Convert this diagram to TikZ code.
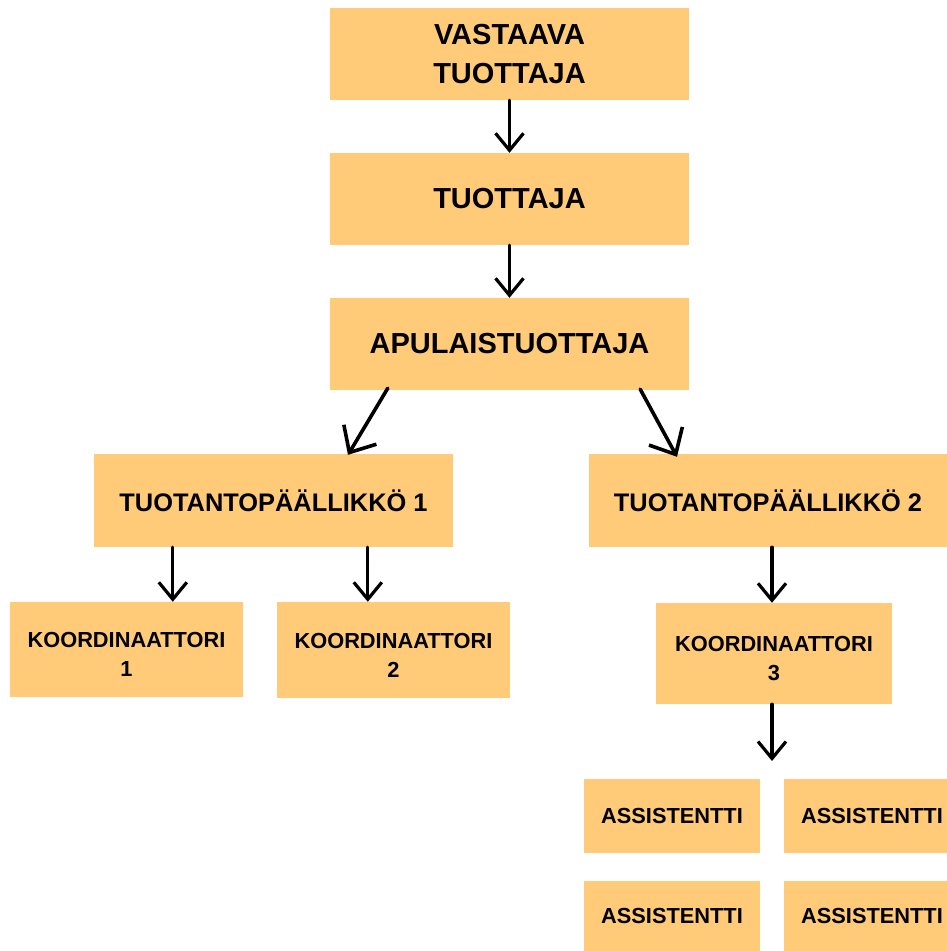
\documentclass[tikz,border=0pt]{standalone}
\usepackage{fontspec}
\setmainfont{Liberation Sans}
\usetikzlibrary{arrows.meta,calc}
\definecolor{boxc}{HTML}{FFCB78}
\newcommand{\kstrut}{\rule{0pt}{25pt}}
\begin{document}
\begin{tikzpicture}[x=1pt,y=-1pt,
  box/.style={fill=boxc, draw=none, inner sep=0pt, align=center, font=\bfseries},
  big/.style={box, font=\bfseries\fontsize{29}{39}\selectfont},
  mid/.style={box, font=\bfseries\fontsize{25.4}{33}\selectfont},
  small/.style={box, font=\bfseries\fontsize{21.8}{29}\selectfont},
  arr/.style={line width=3.2pt, line cap=round, -{Straight Barb[length=17pt,width=28pt,line width=3.2pt]}},
  darr/.style={line width=3.6pt, line cap=round, -{Straight Barb[length=21pt,width=38pt,line width=3.6pt]}}]
\clip (0,0) rectangle (947,951);
\node[big, minimum width=359pt, minimum height=92pt] (vt) at (509.5,54) {VASTAAVA\\TUOTTAJA};
\node[big, minimum width=359pt, minimum height=92pt] (tu) at (509.5,199) {TUOTTAJA};
\node[big, minimum width=359pt, minimum height=92pt] (apu) at (509.5,344) {APULAISTUOTTAJA};
\node[mid, minimum width=359pt, minimum height=93pt] (tp1) at (273.5,500.5) {TUOTANTOPÄÄLLIKKÖ 1};
\node[mid, minimum width=358pt, minimum height=93pt] (tp2) at (768,500.5) {TUOTANTOPÄÄLLIKKÖ 2};
\node[small, minimum width=233pt, minimum height=95pt] (k1) at (126.5,649.5) {\kstrut KOORDINAATTORI\\1};
\node[small, minimum width=233pt, minimum height=96pt] (k2) at (393.5,650) {\kstrut KOORDINAATTORI\\2};
\node[small, minimum width=236pt, minimum height=101pt] (k3) at (774,653.5) {\kstrut KOORDINAATTORI\\3};
\node[small, minimum width=176pt, minimum height=74pt] (a1) at (672,816) {ASSISTENTTI};
\node[small, minimum width=176pt, minimum height=74pt] (a2) at (872,816) {ASSISTENTTI};
\node[small, minimum width=176pt, minimum height=70pt] (a3) at (672,916) {ASSISTENTTI};
\node[small, minimum width=176pt, minimum height=70pt] (a4) at (872,916) {ASSISTENTTI};
\coordinate (k3tip) at (772,761);
% connectors
\draw[arr] (vt.south) -- (tu.north);
\draw[arr] (tu.south) -- (apu.north);
\draw[darr] ([xshift=58pt,yshift=2pt]apu.south west) -- ([xshift=74.5pt,yshift=-1pt]tp1.north);
\draw[darr] ([xshift=-49pt,yshift=1pt]apu.south east) -- ([xshift=-91pt,yshift=-3pt]tp2.north);
\draw[arr] ([xshift=79pt]tp1.south west) -- ([xshift=79pt]tp1.south west |- k1.north);
\draw[arr] ([xshift=274pt]tp1.south west) -- ([xshift=274pt]tp1.south west |- k2.north);
\draw[arr] ([xshift=-2pt]k3.north |- tp2.south) -- ([xshift=-2pt]k3.north);
\draw[arr] (k3tip |- k3.south) -- (k3tip);
\end{tikzpicture}
\end{document}
